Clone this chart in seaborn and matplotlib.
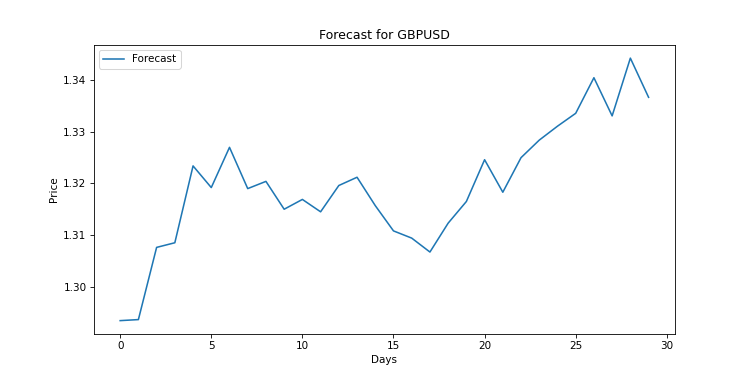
import matplotlib
matplotlib.use("Agg")
import matplotlib.pyplot as plt
import seaborn as sns
import pandas as pd

# forecast prices
days = list(range(30))
price = [1.2934, 1.2936, 1.3076, 1.3085, 1.3234, 1.3192, 1.3270, 1.3190,
         1.3204, 1.3150, 1.3169, 1.3145, 1.3196, 1.3212, 1.3157, 1.3108,
         1.3094, 1.3067, 1.3123, 1.3165, 1.3246, 1.3183, 1.3250, 1.3284,
         1.3311, 1.3336, 1.3405, 1.3331, 1.3443, 1.3367]

df = pd.DataFrame({"Days": days, "Price": price})

fig, ax = plt.subplots(figsize=(10, 5), dpi=75)
sns.lineplot(data=df, x="Days", y="Price", label="Forecast", ax=ax)
ax.set_title("Forecast for GBPUSD")
ax.set_xlabel("Days")
ax.set_ylabel("Price")
ax.legend(loc="upper left")

fig.savefig("out.png", dpi=75)
